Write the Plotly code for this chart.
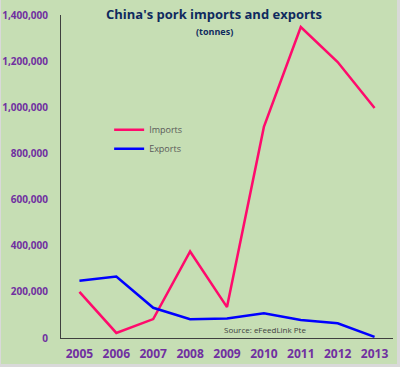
import plotly.graph_objects as go

years = ["2005", "2006", "2007", "2008", "2009", "2010", "2011", "2012", "2013"]
imports = [200000, 22000, 82000, 375000, 134000, 915000, 1348000, 1196000, 997000]
exports = [248000, 266000, 131000, 81000, 85000, 107000, 78000, 64000, 5000]
y_ticks = [0, 200000, 400000, 600000, 800000, 1000000, 1200000, 1400000]
y_labels = ["0", "200,000", "400,000", "600,000", "800,000", "1,000,000", "1,200,000", "1,400,000"]

FONT = "Open Sans"
GREEN = "#C6DEB4"
fig = go.Figure()
fig.add_trace(go.Scatter(x=years, y=imports, mode="lines", name="Imports",
                         line=dict(color="#FF0A6C", width=2.5)))
fig.add_trace(go.Scatter(x=years, y=exports, mode="lines", name="Exports",
                         line=dict(color="#0000FF", width=2.5)))

PW, PH = 332.0, 323.0  # plot area size in px
fig.update_layout(
    width=400, height=367,
    margin=dict(l=61, r=7, t=15, b=29, autoexpand=False),
    paper_bgcolor="#D9D9D9", plot_bgcolor=GREEN,
    font=dict(family=FONT),
    showlegend=True,
    legend=dict(x=0.145, y=0.69, xanchor="left", yanchor="top",
                bgcolor="rgba(0,0,0,0)", font=dict(size=9, color="#595959"),
                itemwidth=30, tracegroupgap=6),
    xaxis=dict(type="category", range=[-0.5, 8.5], showgrid=False, automargin=False,
               showline=True, linecolor="#3F3F3F", linewidth=1,
               ticks="outside", ticklen=5, tickcolor="rgba(0,0,0,0)",
               tickfont=dict(size=12, color="#7030A0", weight="bold")),
    yaxis=dict(range=[0, 1400000], tickvals=y_ticks, ticktext=y_labels,
               showgrid=False, zeroline=False, automargin=False,
               showline=True, linecolor="#3F3F3F", linewidth=1,
               ticks="outside", ticklen=10, tickcolor="rgba(0,0,0,0)",
               tickfont=dict(size=10, color="#7030A0", weight="bold")),
    shapes=[dict(type="rect", xref="paper", yref="paper", layer="below",
                 x0=(1 - 61) / PW, x1=(397 - 61) / PW,
                 y0=(338 - 364) / PH, y1=(338 + 1) / PH,
                 fillcolor=GREEN, line=dict(width=0))],
    annotations=[
        dict(text="<b>China's pork imports and exports</b>", xref="paper", yref="paper",
             x=0.461, y=1.0, xanchor="center", yanchor="middle", yshift=1, showarrow=False,
             font=dict(size=13, color="#0F2A5E")),
        dict(text="<b>(tonnes)</b>", xref="paper", yref="paper",
             x=0.461, y=1.0, xanchor="center", yanchor="middle", yshift=-16, showarrow=False,
             font=dict(size=9, color="#0F2A5E")),
        dict(text="Source: eFeedLink Pte", xref="paper", yref="paper",
             x=0.485, y=0.025, xanchor="left", yanchor="middle", showarrow=False,
             font=dict(size=8, color="#404040")),
    ],
)
fig.write_html("out.html", config={"displayModeBar": False},
               post_script="document.body.style.margin='0';document.body.style.overflow='hidden';")
